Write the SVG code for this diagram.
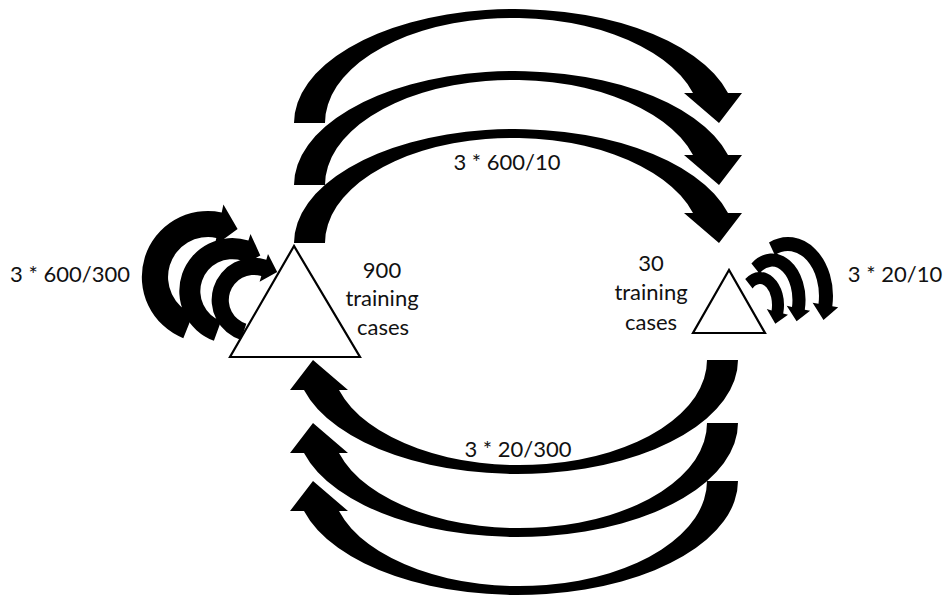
<svg xmlns="http://www.w3.org/2000/svg" xmlns:xlink="http://www.w3.org/1999/xlink" width="946" height="596" viewBox="0 0 946 596">
  <style>
    .arrow { fill: #000; stroke: none; }
    .tri { fill: #fff; stroke: #000; stroke-width: 2.2; stroke-linejoin: miter; }
    .lbl { font-family: Lato, "Open Sans", "Liberation Sans", sans-serif; font-size: 22px; fill: #111; text-anchor: middle; }
  </style>
  <defs>
    <!-- wide curved arrow: tail bottom-left, head pointing down at the right -->
    <path id="bigArc" class="arrow" d="M294,123 A220.9,114 0 0 1 728,93 L742,93 L719,123 L684,93 L693,93 A187.9,105 0 0 0 325,123 Z"/>
  </defs>

  <g id="connectors">
    <!-- upper arcs: large set to small set -->
    <use xlink:href="#bigArc" href="#bigArc"/>
    <use xlink:href="#bigArc" href="#bigArc" transform="translate(0,62)"/>
    <use xlink:href="#bigArc" href="#bigArc" transform="translate(0,120)"/>
    <!-- lower arcs: small set back to large set -->
    <use xlink:href="#bigArc" href="#bigArc" transform="translate(1032,483) scale(-1,-1)"/>
    <use xlink:href="#bigArc" href="#bigArc" transform="translate(1032,546) scale(-1,-1)"/>
    <use xlink:href="#bigArc" href="#bigArc" transform="translate(1032,604) scale(-1,-1)"/>

    <!-- self loops on the large set -->
    <path class="arrow" d="M183.3,338.2 A66,66 0 0 1 221.7,212.4 L223.4,204.6 L237.6,229.1 L214.7,245.7 L216.3,237.9 A40,40 0 0 0 193,314.1 Z"/>
    <path class="arrow" d="M213.9,340.8 A53,53 0 0 1 248.4,240.6 L250.5,233.9 L260.3,255.5 L239.7,267.2 L241.9,260.6 A32,32 0 0 0 221.1,321.1 Z"/>
    <path class="arrow" d="M241,340 A42,42 0 0 1 266.3,259.8 L268,254.1 L277.2,272.1 L259.6,281.8 L261.3,276.1 A25,25 0 0 0 246.3,323.8 Z"/>

    <!-- self loops on the small set -->
    <path class="arrow" d="M745.2,279 A24,33 0 0 1 783.2,313.5 L788,314.8 L775.3,323.8 L766.8,309.1 L771.6,310.4 A12,21 0 0 0 752.6,288.5 Z"/>
    <path class="arrow" d="M751.4,263.4 A33.5,46.5 0 0 1 804.8,309.7 L810.1,310.8 L796.6,321.2 L786.7,305.8 L792,307 A20.5,33.5 0 0 0 759.4,273.6 Z"/>
    <path class="arrow" d="M769,242.5 A45,59 0 0 1 832.3,306.2 L838.2,307.3 L823.5,319.9 L812.6,302.8 L818.5,303.8 A31,45 0 0 0 774.9,255.2 Z"/>

    <!-- edge labels -->
    <text class="lbl" x="507" y="170">3 * 600/10</text>
    <text class="lbl" x="518" y="457">3 * 20/300</text>
    <text class="lbl" x="70" y="282">3 * 600/300</text>
    <text class="lbl" x="895" y="282">3 * 20/10</text>
  </g>

  <g id="node-large">
    <polygon class="tri" points="294,246 230,357 360,357"/>
    <text class="lbl" x="382" y="278">900</text>
    <text class="lbl" x="382" y="306">training</text>
    <text class="lbl" x="383" y="335">cases</text>
  </g>

  <g id="node-small">
    <polygon class="tri" points="729,270 693,333 765,333"/>
    <text class="lbl" x="651" y="271">30</text>
    <text class="lbl" x="651" y="300">training</text>
    <text class="lbl" x="651" y="330">cases</text>
  </g>
</svg>
